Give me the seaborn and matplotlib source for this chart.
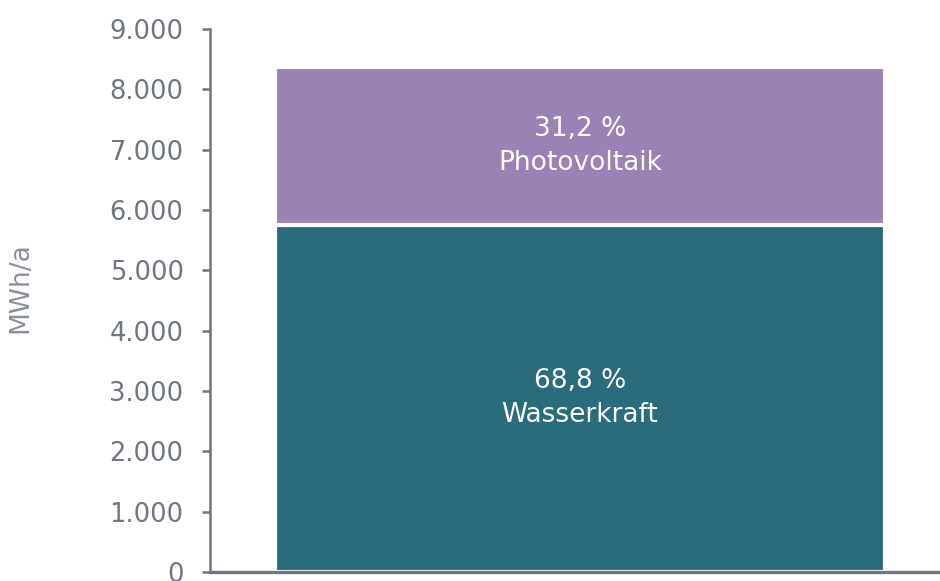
import numpy as np
import pandas as pd
import matplotlib
matplotlib.use("Agg")
import matplotlib.pyplot as plt
import seaborn as sns

# DATA
sources = ['Wasserkraft', 'Photovoltaik']
values = [5760, 2615]  # MWh/a
shares = ['68,8 %', '31,2 %']
yticks = [0, 1000, 2000, 3000, 4000, 5000, 6000, 7000, 8000, 9000]
ytick_labels = ['0', '1.000', '2.000', '3.000', '4.000', '5.000', '6.000', '7.000', '8.000', '9.000']

sns.set_style("white")
plt.rcParams['font.family'] = ['DejaVu Sans']

gray = '#6f7680'
label_gray = '#8a9099'
colors = {'Wasserkraft': '#2a6b7c', 'Photovoltaik': '#9b82b4'}

fig = plt.figure(figsize=(9.4, 5.81), dpi=100)
ax = fig.add_axes([0.2234, 0.0155, 0.7766, 0.9345])

# stacked bar: draw total first, then lower segment on top
total = sum(values)
df_total = pd.DataFrame({'x': ['Mix'], 'y': [total]})
df_low = pd.DataFrame({'x': ['Mix'], 'y': [values[0]]})
sns.barplot(data=df_total, x='x', y='y', color=colors['Photovoltaik'], saturation=1,
            edgecolor='white', linewidth=3, width=0.8, ax=ax)
sns.barplot(data=df_low, x='x', y='y', color=colors['Wasserkraft'], saturation=1,
            edgecolor='white', linewidth=3, width=0.8, ax=ax)

# labels in the middle of each segment
bottom = 0
for src, val, sh in zip(sources, values, shares):
    ax.text(0, bottom + val / 2, f'{sh}\n{src}', ha='center', va='center',
            color='white', fontsize=19, linespacing=1.4)
    bottom += val

ax.set_xlim(-0.485, 0.472)
ax.set_ylim(0, 9000)
ax.set_yticks(yticks)
ax.set_yticklabels(ytick_labels)
ax.set_xticks([])
ax.set_xlabel('')
ax.set_ylabel('MWh/a', color=label_gray, fontsize=19)
ax.yaxis.set_label_coords(-0.2425, 0.523)

for s in ['top', 'right']:
    ax.spines[s].set_visible(False)
for s in ['left', 'bottom']:
    ax.spines[s].set_color(gray)
    ax.spines[s].set_linewidth(1.8)
ax.spines['bottom'].set_linewidth(2.4)
ax.tick_params(axis='y', left=True, colors=gray, labelsize=18.5, length=6,
               width=1.8, direction='out', pad=13)

fig.savefig('out.png', dpi=100)
